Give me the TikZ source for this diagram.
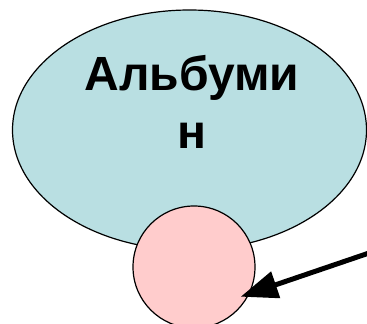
\documentclass[tikz,border=0pt]{standalone}
\usepackage{fontspec}
\setmainfont{Liberation Sans}
\usetikzlibrary{positioning, arrows.meta, shapes.geometric}
\definecolor{albumina}{HTML}{B9DFE2}
\definecolor{ligando}{HTML}{FFCCCC}
\definecolor{trazo}{HTML}{000000}

\begin{document}
\begin{tikzpicture}[x=1pt, y=-1pt,
    proteina/.style={ellipse, draw=trazo, fill=albumina, line width=1.2pt,
                     minimum width=354pt, minimum height=240pt, inner sep=0pt},
    molecula/.style={circle, draw=trazo, fill=ligando, line width=1.2pt,
                     minimum size=122pt, inner sep=0pt},
    rotulo/.style={font=\fontsize{48}{57.5}\selectfont\bfseries, align=center,
                   inner sep=0pt},
    flecha/.style={draw=trazo, line width=5pt,
                   -{Triangle[length=37pt, width=27pt]}}]
	\useasboundingbox (0,0) rectangle (367,324);
	\node[proteina] (alb) at (189.5,130) {};
	\node[rotulo] (nombre) at (192,102) {Альбуми\\н};
	\node[molecula] (lig) at (194,267) {};
	\coordinate (origen) at (372,252);
	\coordinate (punta) at (240.7,296.7);
	\draw[flecha] (origen) -- (punta);
\end{tikzpicture}
\end{document}
